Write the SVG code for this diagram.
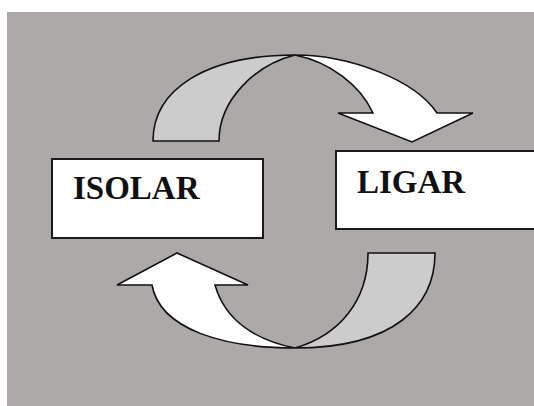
<svg xmlns="http://www.w3.org/2000/svg" width="534" height="406" viewBox="0 0 534 406">
<style>
.arrow{stroke:#111;stroke-width:1.6;stroke-linejoin:miter}
.back{fill:#cccccc}
.front{fill:#ffffff}
.box{fill:#ffffff;stroke:#1a1a1a;stroke-width:2}
.lbl{font-family:'Liberation Serif','DejaVu Serif','Times New Roman',serif;font-weight:700;font-size:33px;fill:#111}
</style>
<rect x="0" y="0" width="534" height="406" fill="#ffffff"/>
<rect x="7" y="12" width="527" height="394" fill="#ada9a8"/>
<g id="connectors">
  <g id="arrow-top">
    <path class="arrow back" d="M153,141 C153,90 205,55 295,55 C255,65 219,100 219,141 Z"/>
    <path class="arrow front" d="M295,55 C350,55 415,80 437,113 L473,113 L412,142 L338,113 L373,113 C360,85 330,62 295,55 Z"/>
  </g>
  <g id="arrow-bottom">
    <path class="arrow back" d="M368,253 L435,253 C435,305 395,348 295,348 C340,335 368,300 368,253 Z"/>
    <path class="arrow front" d="M295,348 C225,348 160,330 152,285 L117,285 L177,253 L248,285 L215,285 C225,320 255,340 295,348 Z"/>
  </g>
</g>
<g id="node-isolar">
  <rect class="box" x="52" y="159" width="211" height="79"/>
  <text class="lbl" x="73" y="199" font-family="Liberation Serif, serif">ISOLAR</text>
</g>
<g id="node-ligar">
  <rect class="box" x="336" y="151" width="230" height="78"/>
  <text class="lbl" x="357" y="193" font-family="Liberation Serif, serif">LIGAR</text>
</g>
</svg>
